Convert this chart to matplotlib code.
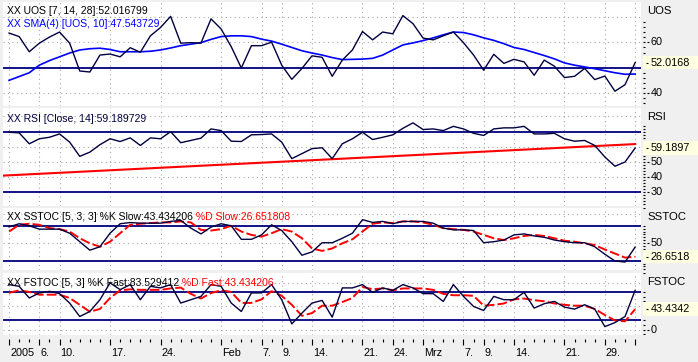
import matplotlib.pyplot as plt
from matplotlib.patches import Rectangle
from matplotlib.transforms import blended_transform_factory

plt.rcParams['font.family'] = ['Liberation Sans', 'DejaVu Sans']

W, H = 698, 362
FS = 7.5       # panel titles
FS_AX = 7.8    # axis labels
NAVY = '#000080'
DARK = '#000040'
GRID = '#a8a8a8'

# trading days 3 Jan 2005 .. 1 Apr 2005 -> index 0..62
tick_idx = [0, 3, 5, 10, 15, 21, 25, 27, 30, 35, 38, 41, 45, 47, 50, 55, 59, 62]
tick_lbl = ["2005", "6.", "10.", "17.", "24.", "Feb", "7.", "9.", "14.", "21.",
            "24.", "Mrz", "7.", "9.", "14.", "21.", "29.", ""]

uos = [63.7, 62.3, 56.3, 59.7, 62.1, 64.1, 59.7, 48.7, 48.3, 55.0,
       55.4, 54.3, 57.9, 56.1, 62.6, 65.9, 70.3, 59.7, 59.9, 59.7,
       69.3, 65.3, 58.3, 49.9, 58.7, 58.7, 60.1, 51.0, 45.4, 49.7,
       54.7, 54.1, 46.6, 53.0, 57.0, 64.3, 61.0, 64.1, 63.4, 70.6,
       67.4, 61.7, 61.0, 62.6, 64.1, 59.9, 55.0, 49.0, 55.3, 51.7,
       53.3, 52.3, 47.0, 53.0, 50.6, 46.1, 46.6, 49.7, 45.3, 46.7,
       40.7, 43.3, 52.0]
uos_sma = [45.0, 46.5, 48.0, 51.0, 52.8, 54.3, 55.8, 57.0, 57.5, 57.7,
           57.2, 56.3, 56.3, 56.3, 56.5, 57.0, 57.8, 58.7, 59.3, 59.9,
           61.2, 62.3, 62.6, 62.6, 62.3, 61.3, 60.5, 59.3, 58.0, 56.7,
           55.8, 55.0, 54.0, 53.2, 53.3, 53.4, 53.7, 55.0, 57.0, 59.0,
           59.8, 60.7, 61.8, 63.0, 64.1, 63.9, 63.0, 61.8, 60.8, 59.5,
           58.0, 57.2, 56.0, 54.8, 53.5, 51.9, 51.0, 50.3, 49.6, 48.8,
           48.0, 47.4, 47.5]

rsi = [69.6, 69.2, 62.0, 65.3, 66.3, 68.5, 63.1, 53.7, 56.5, 61.4,
       65.3, 63.5, 65.9, 60.9, 65.9, 65.3, 70.0, 62.7, 64.2, 65.7,
       71.8, 70.7, 63.7, 63.5, 67.9, 68.1, 68.5, 63.1, 52.2, 55.5,
       58.8, 59.4, 52.2, 62.0, 65.3, 69.6, 64.8, 66.3, 67.9, 72.2,
       75.8, 71.4, 71.8, 70.7, 73.5, 71.8, 68.9, 67.5, 71.8, 72.5,
       72.5, 73.5, 68.5, 68.5, 68.9, 65.3, 63.7, 64.2, 60.9, 53.3,
       47.2, 50.0, 59.2]
rsi_trend_x = [-0.6, 62]
rsi_trend_y = [41.0, 61.8]

sstoc_k = [78.0, 83.5, 80.0, 74.2, 74.2, 74.2, 67.2, 52.6, 38.0, 43.9,
           67.2, 83.5, 85.6, 84.5, 84.5, 84.5, 87.5, 89.3, 76.0, 66.0,
           77.7, 83.5, 80.0, 56.7, 56.7, 64.3, 81.7, 71.8, 52.6, 29.3,
           35.1, 50.8, 50.8, 58.5, 67.2, 90.5, 85.8, 87.5, 83.5, 87.5,
           87.5, 87.5, 84.5, 76.0, 73.0, 73.0, 71.8, 50.8, 52.6, 55.5,
           64.3, 66.0, 62.5, 60.2, 55.5, 52.6, 50.8, 50.8, 43.9, 31.0,
           19.4, 17.6, 43.4]
sstoc_d = [70.1, 81.7, 83.5, 81.7, 76.0, 74.2, 70.1, 58.5, 49.8, 43.9,
           52.6, 67.2, 81.7, 83.5, 84.7, 85.8, 85.8, 87.5, 85.8, 73.0,
           71.8, 74.2, 80.0, 70.1, 64.3, 61.3, 67.2, 74.2, 70.1, 58.5,
           41.0, 36.8, 41.0, 49.8, 56.7, 70.1, 83.5, 85.8, 84.7, 87.5,
           87.5, 85.8, 81.7, 76.0, 74.2, 73.0, 70.1, 64.3, 58.5, 55.5,
           58.5, 62.5, 64.3, 62.5, 58.5, 54.3, 52.6, 49.8, 46.8, 39.2,
           32.2, 25.2, 26.7]

fstoc_k = [95.6, 92.0, 67.2, 77.9, 81.3, 76.4, 56.4, 27.8, 38.5, 63.5,
           99.3, 84.9, 95.6, 63.5, 92.0, 88.6, 95.6, 56.4, 63.5, 70.5,
           95.6, 92.0, 56.4, 38.5, 77.9, 77.9, 95.6, 63.5, 12.1, 35.0,
           56.4, 62.0, 26.5, 88.6, 88.6, 95.6, 79.2, 88.6, 83.5, 95.6,
           88.6, 76.4, 76.4, 59.9, 95.6, 70.6, 49.2, 40.6, 70.6, 63.5,
           63.5, 79.2, 45.7, 55.0, 59.9, 47.8, 43.5, 52.8, 43.5, 6.3,
           14.9, 27.8, 83.5]
fstoc_d = sstoc_k  # %D Fast is the %K Slow series

days = list(range(len(uos)))


def px_axes(x0, y0, x1, y1, **kw):
    return fig.add_axes([x0 / W, 1 - y1 / H, (x1 - x0) / W, (y1 - y0) / H], **kw)


def panel(top, bot, ylo, yhi, grid_vals):
    ax = px_axes(3, top, 640.7, bot, facecolor='white')
    ax.set_xlim(-0.6, 62.55)
    ax.set_ylim(ylo, yhi)
    ax.set_xticks([])
    ax.set_yticks([])
    for s in ax.spines.values():
        s.set_visible(False)
    for v in grid_vals:
        ax.axhline(v, color=GRID, lw=0.8, ls=(0, (1, 3)), zorder=0)
    for i in tick_idx:
        ax.axvline(i, color=GRID, lw=0.8, ls=(0, (1, 3)), zorder=0)
    return ax


def right_axis(top, bot, ylo, yhi, name, labels, minor, value, value_txt):
    rax = px_axes(641, top, 698, bot, facecolor='none')
    rax.set_xlim(0, 1)
    rax.set_ylim(ylo, yhi)
    rax.axis('off')
    tr = blended_transform_factory(rax.transAxes, rax.transData)
    rw = 57.0
    name_y = 1 - 8.7 / (bot - top)
    rax.text(6 / rw, name_y, name, transform=rax.transAxes,
             fontsize=FS_AX + 0.4, va='center', ha='left', color='black')
    name_px = rax.transAxes.transform((0, name_y))[1]
    keep = [v for v in minor
            if abs(rax.transData.transform((0, v))[1] - name_px) > 7]
    rax.hlines(keep, 2 / rw, 4.3 / rw, transform=tr, color='black', lw=0.8)
    for v in labels:
        rax.hlines([v], 5.5 / rw, 8 / rw, transform=tr, color='black', lw=0.8)
        rax.text(9.3 / rw, v, str(v), transform=tr, fontsize=FS_AX,
                 va='center', ha='left')
    hh = 6.7 * (yhi - ylo) / (bot - top)
    rax.add_patch(Rectangle((2 / rw, value - hh), 1 - 2 / rw, 2 * hh, transform=tr,
                            facecolor='#ffffe1', edgecolor='none', zorder=3))
    rax.hlines([value], 4.5 / rw, 6.5 / rw, transform=tr, color='black', lw=0.8, zorder=4)
    rax.text(9.5 / rw, value, value_txt, transform=tr, fontsize=FS_AX,
             va='center', ha='left', zorder=4)
    return rax


fig = plt.figure(figsize=(W / 100, H / 100), dpi=100, facecolor='#f0f0f0')

# UOS panel
ax1 = panel(2, 106, 34.86, 75.97, [40, 60, 70])
ax1.axhline(50, color=NAVY, lw=1.3)
ax1.plot(days, uos_sma, color='#0000ff', lw=1.2)
ax1.plot(days, uos, color=DARK, lw=1.0)
ax1.text(4 / 637.7, 1 - 8.7 / 104, 'XX UOS [7, 14, 28]:52.016799', transform=ax1.transAxes,
         fontsize=FS, va='center', color='black')
ax1.text(4 / 637.7, 1 - 22 / 104, 'XX SMA(4) [UOS, 10]:47.543729', transform=ax1.transAxes,
         fontsize=FS, va='center', color='#0000ff')
right_axis(2, 106, 34.86, 75.97, 'UOS', [60, 40], range(36, 76, 2), 52.0168, '52.0168')

# RSI panel
ax2 = panel(108, 206, 20.96, 85.6, [40, 50, 60, 80])
ax2.axhline(70, color=NAVY, lw=1.3)
ax2.axhline(30, color=NAVY, lw=1.3)
ax2.plot(rsi_trend_x, rsi_trend_y, color='#ff0000', lw=1.5)
ax2.plot(days, rsi, color=DARK, lw=1.0)
ax2.text(4 / 637.7, 1 - 11 / 98, 'XX RSI [Close, 14]:59.189729', transform=ax2.transAxes,
         fontsize=FS, va='center', color=DARK)
right_axis(108, 206, 20.96, 85.6, 'RSI', [50, 40, 30], range(22, 86, 2), 59.1897, '59.1897')

# SSTOC panel
ax3 = panel(208, 270, 3.9, 110.6, [0, 50, 100])
ax3.axhline(80, color=NAVY, lw=1.3)
ax3.axhline(20, color=NAVY, lw=1.3)
ax3.plot(days, sstoc_d, color='#ff0000', lw=1.4, ls=(0, (5, 1.6)))
ax3.plot(days, sstoc_k, color=DARK, lw=1.0)
t3 = ax3.text(4 / 637.7, 1 - 8.7 / 62, 'XX SSTOC [5, 3, 3] %K Slow:43.434206',
              transform=ax3.transAxes, fontsize=FS, va='center', color='black')
ax3.annotate(' %D Slow:26.651808', xy=(1, 0.5), xycoords=t3, va='center', ha='left',
             fontsize=FS, color='#ff0000')
right_axis(208, 270, 3.9, 110.6, 'SSTOC', [50], range(5, 111, 5), 26.6518, '26.6518')

# FSTOC panel
ax4 = panel(273, 335, -11.5, 120.3, [0, 50, 100])
ax4.axhline(80, color=NAVY, lw=1.3)
ax4.axhline(20, color=NAVY, lw=1.3)
ax4.plot(days, fstoc_d, color='#ff0000', lw=1.4, ls=(0, (5, 1.6)))
ax4.plot(days, fstoc_k, color=DARK, lw=1.0)
t4 = ax4.text(4 / 637.7, 1 - 9.5 / 62, 'XX FSTOC [5, 3] %K Fast:83.529412',
              transform=ax4.transAxes, fontsize=FS, va='center', color='black')
ax4.annotate(' %D Fast:43.434206', xy=(1, 0.5), xycoords=t4, va='center', ha='left',
             fontsize=FS, color='#ff0000')
right_axis(273, 335, -11.5, 120.3, 'FSTOC', [0], range(-10, 121, 10), 43.4342, '43.4342')

# date axis
dax = px_axes(3, 339, 640.7, 362, facecolor='none')
dax.set_xlim(-0.6, 62.55)
dax.set_ylim(0, 1)
for s in dax.spines.values():
    s.set_visible(False)
dax.set_yticks([])
dax.set_xticks(tick_idx)
dax.set_xticks(days, minor=True)
dax.xaxis.set_ticks_position('top')
dax.tick_params(axis='x', which='major', direction='in', length=4.3, width=0.8,
                labeltop=False, labelbottom=False, color='black')
dax.tick_params(axis='x', which='minor', direction='in', length=1.8, width=0.8, color='black')
for i, lab in zip(tick_idx, tick_lbl):
    dax.text(i + 0.1, 0.38, lab, fontsize=FS_AX, ha='left', va='center')

fig.savefig('out.png', dpi=100, facecolor=fig.get_facecolor())
